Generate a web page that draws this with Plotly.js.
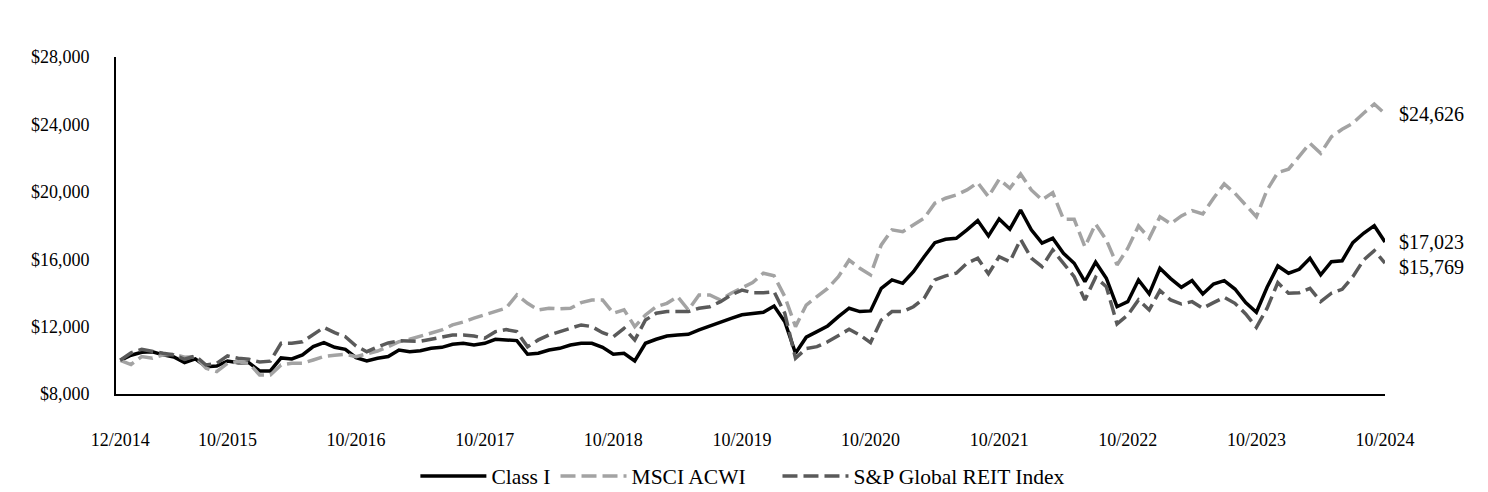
<!DOCTYPE html>
<html>
<head>
<meta charset="utf-8">
<script src="https://cdn.plot.ly/plotly-3.0.1.min.js"></script>
<style>
  html, body { margin: 0; padding: 0; background: #fff; }
  #chart { width: 1488px; height: 492px; }
</style>
</head>
<body>
<div id="chart"></div>
<script>
// growth of $10,000, month-end values 12/2014 .. 10/2024
const classI = [
  10000, 10300, 10480, 10510, 10320, 10200, 9860, 10080, 9620, 9660,
  9960, 9860, 9860, 9370, 9370, 10140, 10080, 10320, 10810, 11050,
  10770, 10650, 10160, 9960, 10120, 10220, 10610, 10510, 10570, 10710,
  10770, 10950, 11010, 10910, 11010, 11250, 11210, 11170, 10360, 10420,
  10610, 10710, 10910, 11010, 11010, 10770, 10360, 10420, 9960, 11010,
  11250, 11440, 11500, 11540, 11800, 12040, 12290, 12490, 12700, 12790,
  12850, 13220, 12290, 10420, 11370, 11700, 12040, 12590, 13090, 12890,
  12930, 14270, 14770, 14570, 15260, 16150, 16980, 17180, 17240, 17740,
  18290, 17380, 18390, 17780, 18920, 17740, 16950, 17240, 16350, 15760,
  14670, 15820, 14870, 13180, 13480, 14770, 13940, 15460, 14850, 14330,
  14730, 13940, 14530, 14730, 14230, 13420, 12850, 14330, 15600, 15170,
  15400, 16060, 15070, 15850, 15910, 16980, 17540, 17990, 17023
];

const msciAcwi = [
  10000, 9750, 10220, 10120, 10320, 10360, 10180, 10220, 9530, 9330,
  9820, 9920, 9820, 9130, 9130, 9720, 9820, 9820, 10020, 10220,
  10300, 10350, 10220, 10400, 10550, 10810, 11100, 11250, 11450, 11650,
  11800, 12100, 12270, 12500, 12700, 12900, 13100, 13880, 13380, 12990,
  13090, 13050, 13090, 13420, 13580, 13580, 12790, 13000, 12000, 12690,
  13180, 13380, 13780, 12990, 13880, 13880, 13580, 13980, 14270, 14610,
  15170, 15010, 13780, 12000, 13280, 13780, 14270, 14960, 15950, 15460,
  15070, 16850, 17740, 17630, 18030, 18430, 19320, 19620, 19810, 20110,
  20540, 19710, 20740, 20210, 21060, 20110, 19520, 19950, 18370, 18370,
  16740, 18090, 17140, 15660, 16650, 17970, 17240, 18520, 18100, 18570,
  18880, 18690, 19620, 20470, 19910, 19220, 18520, 20110, 21140, 21340,
  22090, 22880, 22290, 23270, 23710, 24070, 24660, 25210, 24626
];

const spGlobalReit = [
  10000, 10450, 10650, 10510, 10420, 10320, 10060, 10260, 9720, 9820,
  10260, 10120, 10060, 9900, 9950, 11010, 11010, 11100, 11500, 11950,
  11640, 11400, 10850, 10510, 10800, 11030, 11160, 11150, 11130, 11250,
  11380, 11500, 11500, 11440, 11310, 11700, 11820, 11700, 10800, 11210,
  11500, 11700, 11900, 12100, 12000, 11640, 11400, 11900, 11200, 12390,
  12790, 12890, 12890, 12890, 13090, 13180, 13480, 13880, 14170, 14010,
  14010, 14070, 12790, 10120, 10700, 10810, 11100, 11500, 11840, 11500,
  11050, 12390, 12890, 12890, 13180, 13680, 14770, 15010, 15170, 15760,
  16060, 15130, 16150, 15850, 17180, 16060, 15560, 16550, 15760, 14960,
  13580, 14930, 14370, 12160, 12690, 13580, 12990, 14140, 13580, 13340,
  13480, 13090, 13420, 13740, 13380, 12750, 11960, 13090, 14610, 13980,
  14010, 14270, 13480, 13980, 14210, 14960, 15950, 16510, 15769
];

const tickIdx = [0, 10, 22, 34, 46, 58, 70, 82, 94, 106, 118];
const tickLabels = ['12/2014', '10/2015', '10/2016', '10/2017', '10/2018', '10/2019',
                    '10/2020', '10/2021', '10/2022', '10/2023', '10/2024'];

const yTicks = [8000, 12000, 16000, 20000, 24000, 28000];
const yTickLabels = ['$8,000', '$12,000', '$16,000', '$20,000', '$24,000', '$28,000'];

const seriesNames = ['Class I', 'MSCI ACWI', 'S&P Global REIT Index'];
const endLabels = ['$17,023', '$24,626', '$15,769'];

const FONT = 'Liberation Serif, Times New Roman, serif';
const NB = '\u00a0';
const idx = classI.map((_, i) => i);

// trailing no-break spaces widen the legend entries like the original
const legendPad = [0, 5, 0];

const traces = [
  { y: classI, color: '#000000', dash: 'solid' },
  { y: msciAcwi, color: '#a3a3a3', dash: '15px,6px' },
  { y: spGlobalReit, color: '#5a5a5a', dash: '15px,6px' }
].map((s, k) => ({
  x: idx,
  y: s.y,
  name: seriesNames[k] + NB.repeat(legendPad[k]),
  type: 'scatter',
  mode: 'lines',
  line: { color: s.color, width: 3.5, dash: s.dash },
  hoverinfo: 'skip'
}));

const last = idx.length - 1;
const lastVals = [classI[last], msciAcwi[last], spGlobalReit[last]];
const annotations = lastVals.map((v, k) => ({
  x: last, y: v, xref: 'x', yref: 'y',
  text: endLabels[k],
  showarrow: false,
  xanchor: 'left', yanchor: 'middle',
  xshift: 12,
  yshift: k === 2 ? -4 : 0,
  font: { family: FONT, size: 20, color: '#000' }
}));

const layout = {
  width: 1488,
  height: 492,
  paper_bgcolor: '#ffffff',
  plot_bgcolor: '#ffffff',
  margin: { l: 116, r: 103, t: 57, b: 98 },
  font: { family: FONT, size: 18, color: '#000' },
  showlegend: true,
  legend: {
    orientation: 'h',
    x: 0.494, xanchor: 'center',
    yref: 'container',
    y: 0.0325, yanchor: 'middle',
    font: { family: FONT, size: 21.5, color: '#000' },
    itemwidth: 66
  },
  xaxis: {
    range: [-0.4, 118],
    showgrid: false,
    zeroline: false,
    showline: true,
    linecolor: '#000',
    linewidth: 2,
    ticks: '',
    tickvals: tickIdx,
    ticktext: tickLabels,
    ticklabelstandoff: 28,
    tickfont: { family: FONT, size: 18, color: '#000' }
  },
  yaxis: {
    range: [8000, 28000],
    showgrid: false,
    zeroline: false,
    showline: true,
    linecolor: '#000',
    linewidth: 2,
    ticks: '',
    tickvals: yTicks,
    ticktext: yTickLabels,
    ticklabelstandoff: 21,
    tickfont: { family: FONT, size: 18, color: '#000' }
  },
  annotations: annotations
};

Plotly.newPlot('chart', traces, layout, { staticPlot: true, displayModeBar: false });
</script>
</body>
</html>
